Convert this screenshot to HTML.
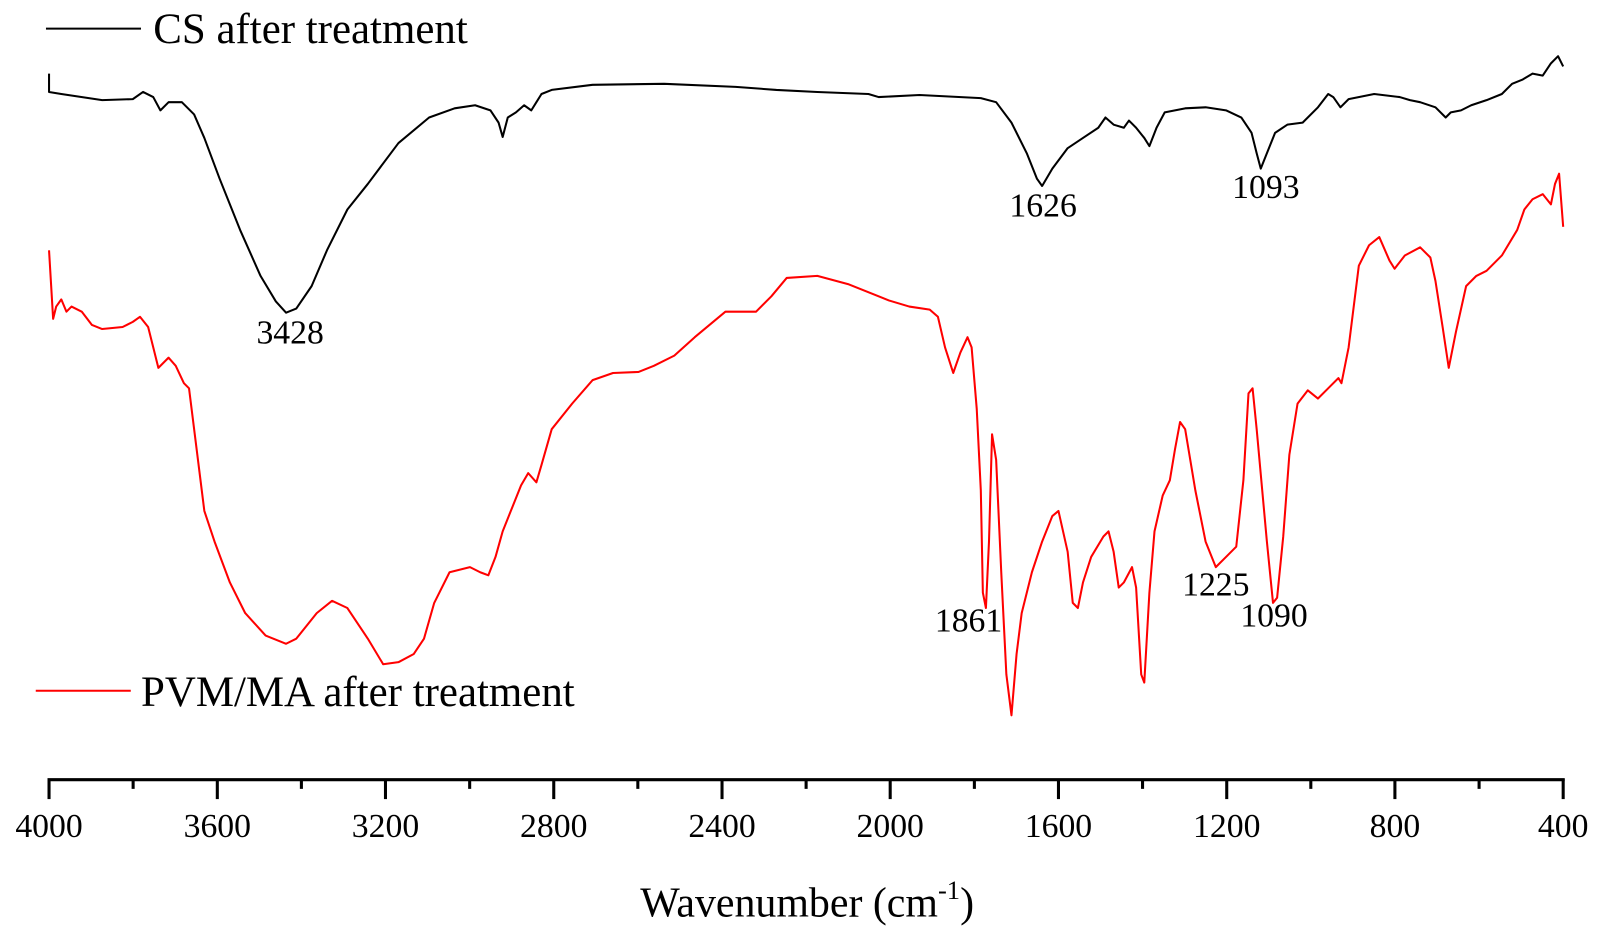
<!DOCTYPE html>
<html><head><meta charset="utf-8"><style>html,body{margin:0;padding:0;background:#fff}svg{display:block}</style></head>
<body>
<svg width="1602" height="935" viewBox="0 0 1568 915" preserveAspectRatio="none" xmlns="http://www.w3.org/2000/svg" font-family="'Liberation Serif', serif">
<rect width="1568" height="915" fill="#fff"/>
<polyline fill="none" stroke="#000" stroke-width="2" stroke-linejoin="round" points="48,72 48,90 60,92 100,98 130,97 140,90 150,95 157,108 165,100 178,100 190,112 200,135 215,175 235,225 255,270 270,295 280,306 290,302 305,280 320,245 340,205 360,180 390,140 420,115 445,106 465,103 480,108 488,120 492,134 497,115 505,110 513,103 520,108 525,100 530,92 540,88 580,83 650,82 720,85 760,88 800,90 850,92 860,95 900,93 960,96 975,100 990,120 1005,150 1015,175 1020,182 1030,165 1045,145 1060,135 1075,125 1082,115 1090,122 1100,125 1105,118 1112,125 1120,135 1125,143 1132,125 1140,110 1160,106 1180,105 1200,108 1215,115 1225,130 1230,150 1234,165 1240,150 1248,130 1260,122 1275,120 1290,105 1300,92 1305,95 1312,105 1320,97 1345,92 1370,95 1380,98 1390,100 1405,105 1415,115 1420,110 1430,108 1440,103 1455,98 1470,92 1480,82 1490,78 1500,72 1510,74 1518,62 1525,55 1530,65"/>
<polyline fill="none" stroke="#f00" stroke-width="2" stroke-linejoin="round" points="48,245 52,312 55,300 60,293 65,305 70,300 80,305 90,318 100,322 120,320 130,315 137,310 145,320 150,340 155,360 160,355 165,350 172,358 180,375 185,380 190,420 200,500 210,530 225,570 240,600 260,622 280,630 290,625 310,600 325,588 340,595 360,625 375,650 390,648 405,640 415,625 425,590 440,560 460,555 470,560 478,563 485,545 492,520 500,500 510,475 517,463 525,472 530,455 540,420 560,395 580,372 600,365 625,364 640,358 660,348 680,330 710,305 740,305 755,290 770,272 800,270 830,278 860,290 870,294 890,300 910,303 918,310 925,340 933,365 940,345 947,330 951,340 956,400 960,480 962,580 965,595 968,530 971,425 975,450 980,560 985,660 990,700 995,640 1000,600 1010,560 1020,530 1030,505 1036,500 1045,540 1050,590 1055,595 1060,570 1068,545 1080,525 1085,520 1090,540 1095,575 1100,570 1108,555 1112,575 1117,660 1120,668 1125,580 1130,520 1138,485 1145,470 1150,440 1155,413 1160,420 1170,480 1180,530 1190,555 1200,545 1210,535 1217,470 1222,385 1226,380 1230,420 1240,530 1246,590 1250,585 1256,525 1262,445 1270,395 1280,382 1290,390 1300,380 1310,370 1313,375 1320,340 1330,260 1340,240 1350,232 1360,255 1365,263 1375,250 1390,242 1400,252 1405,275 1412,320 1418,360 1425,325 1435,280 1445,270 1455,265 1470,250 1485,225 1492,205 1500,195 1510,190 1518,200 1522,180 1526,170 1530,222"/>
<line x1="45" y1="28" x2="138" y2="28" stroke="#000" stroke-width="2"/>
<text x="150" y="42" font-size="42">CS after treatment</text>
<line x1="35" y1="676" x2="128" y2="676" stroke="#f00" stroke-width="2"/>
<text x="138" y="691" font-size="42">PVM/MA after treatment</text>
<g font-size="33" text-anchor="middle">
<text x="284" y="336">3428</text><text x="1021" y="212">1626</text><text x="1239" y="194">1093</text>
<text x="948" y="618">1861</text><text x="1190" y="583">1225</text><text x="1247" y="613">1090</text>
</g>
<g stroke="#000" stroke-width="3">
<line x1="46.5" y1="763" x2="1531.5" y2="763"/>
<line x1="48" y1="762" x2="48" y2="782"/><line x1="212.7" y1="762" x2="212.7" y2="782"/><line x1="377.3" y1="762" x2="377.3" y2="782"/><line x1="542" y1="762" x2="542" y2="782"/><line x1="706.7" y1="762" x2="706.7" y2="782"/><line x1="871.3" y1="762" x2="871.3" y2="782"/><line x1="1036" y1="762" x2="1036" y2="782"/><line x1="1200.7" y1="762" x2="1200.7" y2="782"/><line x1="1365.3" y1="762" x2="1365.3" y2="782"/><line x1="1530" y1="762" x2="1530" y2="782"/>
<line x1="130.3" y1="762" x2="130.3" y2="772"/><line x1="295" y1="762" x2="295" y2="772"/><line x1="459.7" y1="762" x2="459.7" y2="772"/><line x1="624.3" y1="762" x2="624.3" y2="772"/><line x1="789" y1="762" x2="789" y2="772"/><line x1="953.7" y1="762" x2="953.7" y2="772"/><line x1="1118.3" y1="762" x2="1118.3" y2="772"/><line x1="1283" y1="762" x2="1283" y2="772"/><line x1="1447.7" y1="762" x2="1447.7" y2="772"/>
</g>
<g font-size="33" text-anchor="middle">
<text x="48" y="819">4000</text><text x="212.7" y="819">3600</text><text x="377.3" y="819">3200</text><text x="542" y="819">2800</text><text x="706.7" y="819">2400</text><text x="871.3" y="819">2000</text><text x="1036" y="819">1600</text><text x="1200.7" y="819">1200</text><text x="1365.3" y="819">800</text><text x="1530" y="819">400</text>
</g>
<text x="790" y="897" font-size="41" text-anchor="middle">Wavenumber (cm<tspan font-size="26" dy="-17">-1</tspan><tspan dy="17">)</tspan></text>
</svg>
</body></html>
